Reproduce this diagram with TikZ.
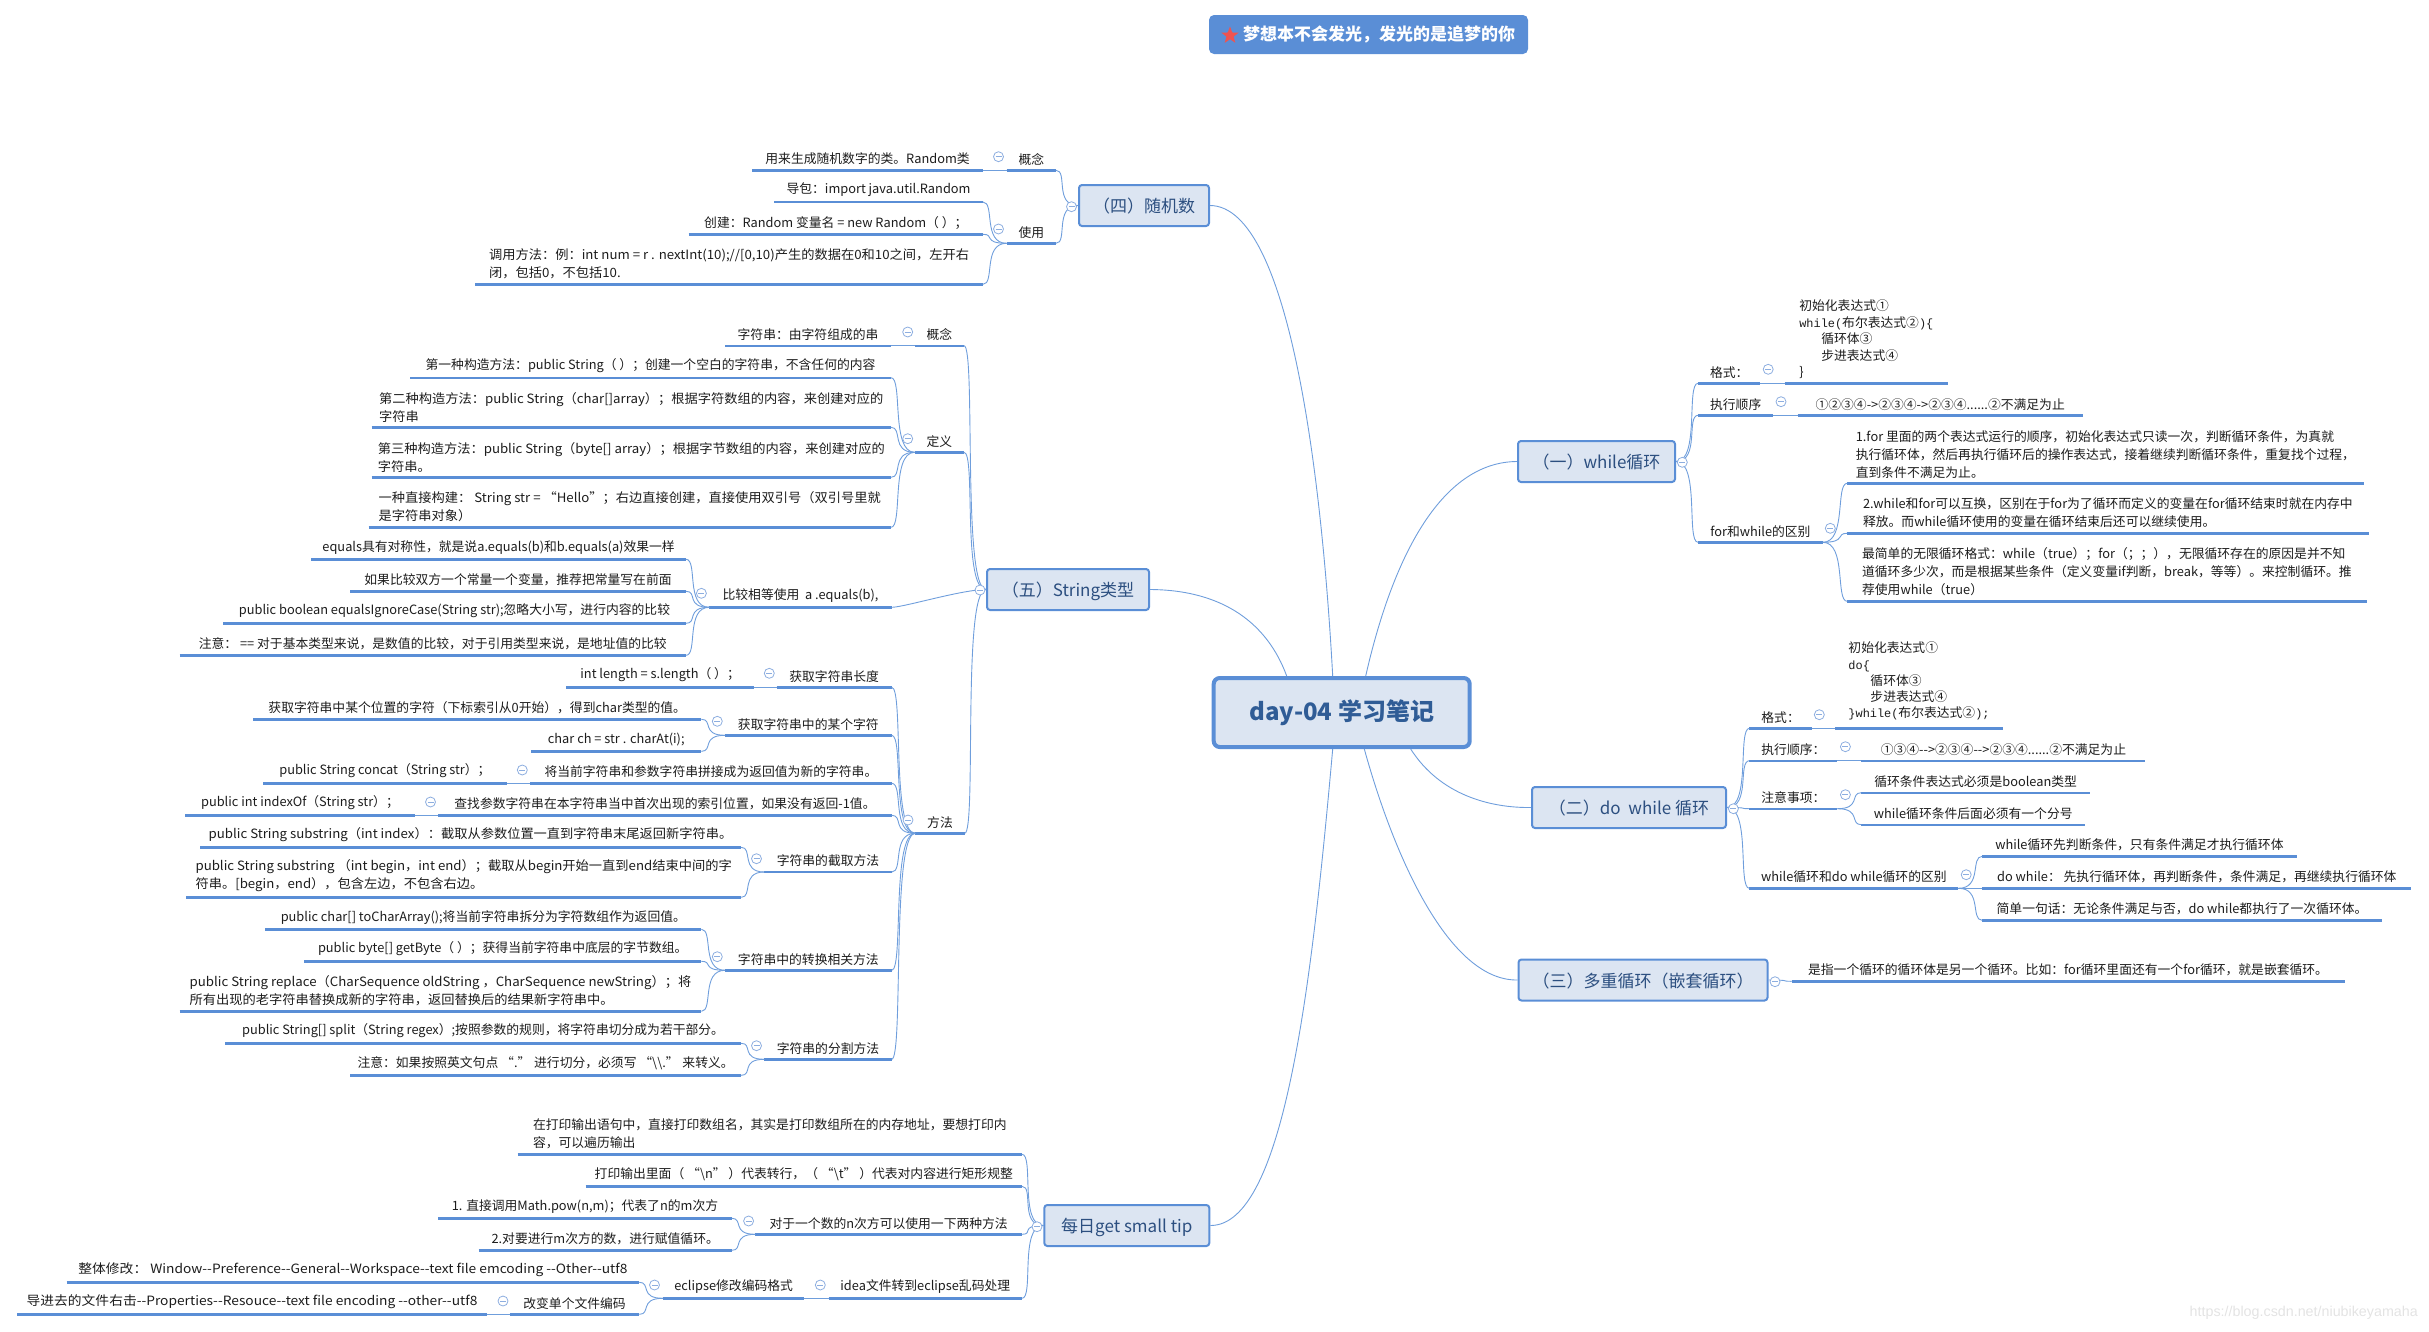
\documentclass[tikz,border=0pt]{standalone}
\usepackage{fontspec}
\usetikzlibrary{shapes.geometric}
\setmainfont{Noto Sans CJK SC}
\setmonofont[Scale=0.93]{Liberation Mono}
\newfontfamily\markfont{Liberation Sans}
\newfontfamily\widefont[FakeStretch=1.035]{Noto Sans CJK SC}
\newfontfamily\widerfont[FakeStretch=1.075]{Noto Sans CJK SC}
\definecolor{mapblue}{HTML}{5A8ED6}
\definecolor{linkblue}{HTML}{6F9EDC}
\definecolor{foldblue}{HTML}{8DAEE0}
\definecolor{boxfill}{HTML}{DCE5F2}
\definecolor{boxtext}{HTML}{2C4F80}
\definecolor{rootext}{HTML}{2F5C96}
\definecolor{leaftext}{HTML}{1C1C1C}
\definecolor{starred}{HTML}{EF5350}
\tikzset{
	leaf/.style={font=\fontsize{12.8}{18}\selectfont,text=leaftext,align=left,inner xsep=0pt,inner ysep=5pt,
		append after command={(\tikzlastnode.south west) edge[underl] (\tikzlastnode.south east)}},
	underl/.style={draw=mapblue,line width=2.4pt},
	leafl/.style={leaf,anchor=south east,minimum width=#1},
	leafr/.style={leaf,anchor=south west,minimum width=#1},
	wide/.style={font=\widefont\fontsize{12.8}{18}\selectfont},
	wider/.style={font=\widerfont\fontsize{12.8}{18}\selectfont},
	topic/.style={draw=mapblue,fill=boxfill,line width=2pt,rounded corners=3pt,text=boxtext,font=\fontsize{17}{20}\selectfont,inner sep=0pt,minimum height=41pt,text height=15pt,text depth=1pt},
	fold/.style={circle,draw=foldblue,fill=white,line width=.8pt,minimum size=10pt,inner sep=0pt,
		path picture={\draw[foldblue,line width=.8pt] ([xshift=-3pt]path picture bounding box.center)--([xshift=3pt]path picture bounding box.center);}},
	linkl/.style={draw=linkblue,line width=.9pt,to path={.. controls +(-24,0) and +(12,0) .. (\tikztotarget)}},
	linkr/.style={draw=linkblue,line width=.9pt,to path={.. controls +(24,0) and +(-12,0) .. (\tikztotarget)}},
	rootlink/.style={draw=linkblue,line width=.9pt}
}
\begin{document}
\begin{tikzpicture}[x=1pt,y=-1pt]
	\useasboundingbox (0,0) rectangle (2429,1331);
	% title and centre
	\node[fill=mapblue,rounded corners=5pt,minimum width=319pt,minimum height=39pt,inner sep=0pt,text=white,font=\fontsize{17}{20}\selectfont\bfseries] (title) at (1368.5,34.5) {\hspace*{21pt}梦想本不会发光，发光的是追梦的你};
	\node[star,star points=5,star point ratio=2.4,fill=starred,minimum size=18pt,inner sep=0pt] (icon) at (1230,35.5) {};
	\node[draw=mapblue,fill=boxfill,line width=4pt,rounded corners=6pt,minimum width=256pt,minimum height=69pt,inner sep=0pt,text=rootext,font=\fontsize{24}{28}\selectfont\bfseries] (root) at (1341.7,712.5) {day-04 学习笔记};
	
	% topics
	\node[topic,minimum width=130pt] (rnd) at (1144,205.5) {（四）随机数};
	\node[topic,minimum width=162pt] (str) at (1068,589.5) {（五）String类型};
	\node[topic,minimum width=165pt] (tip) at (1126.8,1225.5) {每日get small tip};
	\node[topic,minimum width=157pt] (whl) at (1596.5,461.5) {（一）while循环};
	\node[topic,minimum width=194pt] (dow) at (1629,807.5) {（二）do\ \ while 循环};
	\node[topic,minimum width=249pt] (nest) at (1643,980) {（三）多重循环（嵌套循环）};
	
	\draw[rootlink] (rnd.east) .. controls (1290,206) and (1322,480) .. ([xshift=-9pt]root.north);
	\draw[rootlink] (str.east) .. controls (1225,590) and (1268,625) .. ([xshift=-55pt]root.north);
	\draw[rootlink] (tip.east) .. controls (1285,1226) and (1312,980) .. ([xshift=-9pt]root.south);
	\draw[rootlink] (whl.west) .. controls (1440,462) and (1392,560) .. ([xshift=24pt]root.north);
	\draw[rootlink] (dow.west) .. controls (1490,808) and (1440,795) .. ([xshift=69pt]root.south);
	\draw[rootlink] (nest.west) .. controls (1450,981) and (1395,860) .. ([xshift=22.6pt]root.south);
	
	% (四) random
	\node[leafl=49] (rndA) at (1056,170.3) {概念};
	\node[leafl=230.5] (rndA1) at (983,170.3) {用来生成随机数字的类。Random类};
	\node[leafl=49] (rndB) at (1056,243.3) {使用};
	\node[leafl=208.5] (rndB1) at (983,202) {导包：import java.util.Random};
	\node[leafl=294] (rndB2) at (983,234.3) {创建：Random 变量名 = new Random（ ）；};
	\node[leafl=507.5,wide] (rndB3) at (983,284.3) {调用方法：例：int num = r . nextInt(10);//[0,10)产生的数据在0和10之间，左开右\\闭，包括0，不包括10.};
	
	\draw[linkl] (rnd.west) to (rndA.south east);
	\draw[linkl] (rnd.west) to (rndB.south east);
	\draw[linkl] (rndA.south west) to (rndA1.south east);
	\draw[linkl] (rndB.south west) to (rndB1.south east);
	\draw[linkl] (rndB.south west) to (rndB2.south east);
	\draw[linkl] (rndB.south west) to (rndB3.south east);
	
	% (五) String
	\node[leafl=49] (strA) at (964,345.7) {概念};
	\node[leafl=165.5] (strA1) at (891,345.7) {字符串：由字符组成的串};
	\node[leafl=49] (strB) at (964,452.3) {定义};
	\node[leafl=480.5] (strB1) at (891,377.7) {第一种构造方法：public String（ ）；创建一个空白的字符串，不含任何的内容};
	\node[leafl=519,wide] (strB2) at (891,427.3) {第二种构造方法：public String（char[]array）；根据字符数组的内容，来创建对应的\\字符串};
	\node[leafl=519,wide] (strB3) at (891,477.3) {第三种构造方法：public String（byte[] array）；根据字节数组的内容，来创建对应的\\字符串。};
	\node[leafl=522,wide] (strB4) at (891,527.3) {一种直接构建： String str = “Hello”；右边直接创建，直接使用双引号（双引号里就\\是字符串对象）};
	\node[leafl=182] (strC) at (891.7,607.3) {比较相等使用\ \ a .equals(b),};
	\node[leafl=374.4] (strC1) at (686,559.3) {equals具有对称性，就是说a.equals(b)和b.equals(a)效果一样};
	\node[leafl=335.6] (strC2) at (686,591.3) {如果比较双方一个常量一个变量，推荐把常量写在前面};
	\node[leafl=462.6] (strC3) at (686,623.3) {public boolean equalsIgnoreCase(String str);忽略大小写，进行内容的比较};
	\node[leafl=506] (strC4) at (686,655.3) {注意： == 对于基本类型来说，是数值的比较，对于引用类型来说，是地址值的比较};
	\node[leafl=49] (strD) at (964.7,833.3) {方法};
	\node[leafl=114.7] (strD1) at (891.7,687.3) {获取字符串长度};
	\node[leafl=187.3] (strD1a) at (754,687.3) {int length = s.length（ ）；};
	\node[leafl=166.3] (strD2) at (891.7,735.3) {获取字符串中的某个字符};
	\node[leafl=447.9] (strD2a) at (701.4,719.3) {获取字符串中某个位置的字符（下标索引从0开始），得到char类型的值。};
	\node[leafl=169.9] (strD2b) at (701.4,751.3) {char ch = str . charAt(i);};
	\node[leafl=361.2] (strD3) at (891.7,783.3) {将当前字符串和参数字符串拼接成为返回值为新的字符串。};
	\node[leafl=242.8] (strD3a) at (506.5,783.3) {public String concat（String str）；};
	\node[leafl=453] (strD4) at (891.7,815.3) {查找参数字符串在本字符串当中首次出现的索引位置，如果没有返回-1值。};
	\node[leafl=229.1] (strD4a) at (414.7,815.3) {public int indexOf（String str）；};
	\node[leafl=127] (strD5) at (891.7,872) {字符串的截取方法};
	\node[leafl=540.8,wide] (strD5a) at (741.2,847.3) {public String substring（int index）：截取从参数位置一直到字符串末尾返回新字符串。};
	\node[leafl=554.6,wide] (strD5b) at (741.2,897.3) {public String substring （int begin，int end）；截取从begin开始一直到end结束中间的字\\符串。[begin，end），包含左边，不包含右边。};
	\node[leafl=166.3] (strD6) at (891.7,970.3) {字符串中的转换相关方法};
	\node[leafl=435.7] (strD6a) at (701.4,929.3) {public char[] toCharArray();将当前字符串拆分为字符数组作为返回值。};
	\node[leafl=396.9] (strD6b) at (701.4,961.3) {public byte[] getByte（ ）；获得当前字符串中底层的字节数组。};
	\node[leafl=521.4,wide] (strD6c) at (701.4,1011.3) {public String replace（CharSequence oldString ，CharSequence newString）；将\\所有出现的老字符串替换成新的字符串，返回替换后的结果新字符串中。};
	\node[leafl=127] (strD7) at (891.7,1059.3) {字符串的分割方法};
	\node[leafl=515.8] (strD7a) at (741.2,1043.3) {public String[] split（String regex）;按照参数的规则，将字符串切分成为若干部分。};
	\node[leafl=390.8] (strD7b) at (741.2,1075.3) {注意：如果按照英文句点 “.” 进行切分，必须写 “\textbackslash\textbackslash.” 来转义。};
	
	\draw[linkl] (str.west) to (strA.south east);
	\draw[linkl] (str.west) to (strB.south east);
	\draw[linkl] (str.west) to (strC.south east);
	\draw[linkl] (str.west) to (strD.south east);
	\draw[linkl] (strA.south west) to (strA1.south east);
	\draw[linkl] (strB.south west) to (strB1.south east);
	\draw[linkl] (strB.south west) to (strB2.south east);
	\draw[linkl] (strB.south west) to (strB3.south east);
	\draw[linkl] (strB.south west) to (strB4.south east);
	\draw[linkl] (strC.south west) to (strC1.south east);
	\draw[linkl] (strC.south west) to (strC2.south east);
	\draw[linkl] (strC.south west) to (strC3.south east);
	\draw[linkl] (strC.south west) to (strC4.south east);
	\draw[linkl] (strD.south west) to (strD1.south east);
	\draw[linkl] (strD.south west) to (strD2.south east);
	\draw[linkl] (strD.south west) to (strD3.south east);
	\draw[linkl] (strD.south west) to (strD4.south east);
	\draw[linkl] (strD.south west) to (strD5.south east);
	\draw[linkl] (strD.south west) to (strD6.south east);
	\draw[linkl] (strD.south west) to (strD7.south east);
	\draw[linkl] (strD1.south west) to (strD1a.south east);
	\draw[linkl] (strD2.south west) to (strD2a.south east);
	\draw[linkl] (strD2.south west) to (strD2b.south east);
	\draw[linkl] (strD3.south west) to (strD3a.south east);
	\draw[linkl] (strD4.south west) to (strD4a.south east);
	\draw[linkl] (strD5.south west) to (strD5a.south east);
	\draw[linkl] (strD5.south west) to (strD5b.south east);
	\draw[linkl] (strD6.south west) to (strD6a.south east);
	\draw[linkl] (strD6.south west) to (strD6b.south east);
	\draw[linkl] (strD6.south west) to (strD6c.south east);
	\draw[linkl] (strD7.south west) to (strD7a.south east);
	\draw[linkl] (strD7.south west) to (strD7b.south east);
	
	% daily tip
	\node[leafl=504] (tipA) at (1022,1154.3) {在打印输出语句中，直接打印数组名，其实是打印数组所在的内存地址，要想打印内\\容，可以遍历输出};
	\node[leafl=436] (tipB) at (1022,1186.3) {打印输出里面（ “\textbackslash n” ）代表转行，（ “\textbackslash t” ）代表对内容进行矩形规整};
	\node[leafl=266.3] (tipC) at (1022,1234.3) {对于一个数的n次方可以使用一下两种方法};
	\node[leafl=293.3] (tipC1) at (731.8,1218.3) {1. 直接调用Math.pow(n,m)；代表了n的m次方};
	\node[leafl=252.8] (tipC2) at (731.8,1250.3) {2.对要进行m次方的数，进行赋值循环。};
	\node[leafl=193] (tipD) at (1022,1298.3) {idea文件转到eclipse乱码处理};
	\node[leafl=141.1] (tipD1) at (804.4,1298.3) {eclipse修改编码格式};
	\node[leafl=572.3,wider] (tipD1a) at (639.3,1282.3) {整体修改： Window-{}-Preference-{}-General-{}-Workspace-{}-text file emcoding -{}-Other-{}-utf8};
	\node[leafl=129.1] (tipD1b) at (639.3,1314.3) {改变单个文件编码};
	\node[leafl=469.5,wider] (tipD1c) at (487,1314.3) {导进去的文件右击-{}-Properties-{}-Resouce-{}-text file encoding -{}-other-{}-utf8};
	
	\draw[linkl] (tip.west) to (tipA.south east);
	\draw[linkl] (tip.west) to (tipB.south east);
	\draw[linkl] (tip.west) to (tipC.south east);
	\draw[linkl] (tip.west) to (tipD.south east);
	\draw[linkl] (tipC.south west) to (tipC1.south east);
	\draw[linkl] (tipC.south west) to (tipC2.south east);
	\draw[linkl] (tipD.south west) to (tipD1.south east);
	\draw[linkl] (tipD1.south west) to (tipD1a.south east);
	\draw[linkl] (tipD1.south west) to (tipD1b.south east);
	\draw[linkl] (tipD1b.south west) to (tipD1c.south east);
	
	% (一) while
	\node[leafr=62] (whlA) at (1698,383.3) {格式：};
	\node[leafr=163,font=\fontsize{12.8}{16.6}\selectfont,inner ysep=4pt] (whlA1) at (1784.6,383.3) {初始化表达式①\\\texttt{while(}布尔表达式②\texttt{)\{}\\\hspace*{22pt}循环体③\\\hspace*{22pt}步进表达式④\\\}};
	\node[leafr=75] (whlB) at (1698,415.3) {执行顺序};
	\node[leafr=285] (whlB1) at (1797.5,415.3) {①②③④->②③④->②③④......②不满足为止};
	\node[leafr=124.4] (whlC) at (1698,542.3) {for和while的区别};
	\node[leafr=516] (whlC1) at (1847.2,483.3) {1.for 里面的两个表达式运行的顺序，初始化表达式只读一次，判断循环条件，为真就\\执行循环体，然后再执行循环后的操作表达式，接着继续判断循环条件，重复找个过程，\\直到条件不满足为止。};
	\node[leafr=521] (whlC2) at (1847.2,533.3) {2.while和for可以互换，区别在于for为了循环而定义的变量在for循环结束时就在内存中\\释放。而while循环使用的变量在循环结束后还可以继续使用。};
	\node[leafr=519] (whlC3) at (1847.2,601.3) {最简单的无限循环格式：while（true）；for（；；），无限循环存在的原因是并不知\\道循环多少次，而是根据某些条件（定义变量if判断，break，等等）。来控制循环。推\\荐使用while（true）};
	
	\draw[linkr] (whl.east) to (whlA.south west);
	\draw[linkr] (whl.east) to (whlB.south west);
	\draw[linkr] (whl.east) to (whlC.south west);
	\draw[linkr] (whlA.south east) to (whlA1.south west);
	\draw[linkr] (whlB.south east) to (whlB1.south west);
	\draw[linkr] (whlC.south east) to (whlC1.south west);
	\draw[linkr] (whlC.south east) to (whlC2.south west);
	\draw[linkr] (whlC.south east) to (whlC3.south west);
	
	% (二) do while
	\node[leafr=62] (dowA) at (1749.4,728.3) {格式：};
	\node[leafr=167,font=\fontsize{12.8}{16.2}\selectfont,inner ysep=8pt] (dowA1) at (1835.3,728.3) {初始化表达式①\\\texttt{do\{}\\\hspace*{22pt}循环体③\\\hspace*{22pt}步进表达式④\\\texttt{\}while(}布尔表达式②\texttt{);}};
	\node[leafr=87.6] (dowB) at (1749.4,760.7) {执行顺序：};
	\node[leafr=283.6] (dowB1) at (1861.4,760.7) {①③④-{}->②③④-{}->②③④......②不满足为止};
	\node[leafr=87.6] (dowC) at (1749.4,808.7) {注意事项：};
	\node[leafr=228] (dowC1) at (1861.4,792.7) {循环条件表达式必须是boolean类型};
	\node[leafr=223.3] (dowC2) at (1861.4,824.7) {while循环条件后面必须有一个分号};
	\node[leafr=208.6] (dowD) at (1749.4,888.3) {while循环和do while循环的区别};
	\node[leafr=314] (dowD1) at (1982.2,856.3) {while循环先判断条件，只有条件满足才执行循环体};
	\node[leafr=428.8] (dowD2) at (1982.2,888.3) {do while： 先执行循环体，再判断条件，条件满足，再继续执行循环体};
	\node[leafr=399.3] (dowD3) at (1982.2,920.3) {简单一句话：无论条件满足与否，do while都执行了一次循环体。};
	
	\draw[linkr] (dow.east) to (dowA.south west);
	\draw[linkr] (dow.east) to (dowB.south west);
	\draw[linkr] (dow.east) to (dowC.south west);
	\draw[linkr] (dow.east) to (dowD.south west);
	\draw[linkr] (dowA.south east) to (dowA1.south west);
	\draw[linkr] (dowB.south east) to (dowB1.south west);
	\draw[linkr] (dowC.south east) to (dowC1.south west);
	\draw[linkr] (dowC.south east) to (dowC2.south west);
	\draw[linkr] (dowD.south east) to (dowD1.south west);
	\draw[linkr] (dowD.south east) to (dowD2.south west);
	\draw[linkr] (dowD.south east) to (dowD3.south west);
	
	% (三) nested
	\node[leafr=552.7] (nestA) at (1791.5,981.3) {是指一个循环的循环体是另一个循环。比如：for循环里面还有一个for循环，就是嵌套循环。};
	\draw[linkr] (nest.east) to (nestA.south west);
	
	% fold marks
	\node[fold] (f1) at (1071.5,206.7) {};
	\node[fold] (f2) at (998.5,156.7) {};
	\node[fold] (f3) at (998.5,229) {};
	\node[fold] (f4) at (980,590) {};
	\node[fold] (f5) at (907.7,332) {};
	\node[fold] (f6) at (907.7,438.7) {};
	\node[fold] (f7) at (701.4,593.3) {};
	\node[fold] (f8) at (908,820) {};
	\node[fold] (f9) at (769.3,673.3) {};
	\node[fold] (f10) at (717.3,721.3) {};
	\node[fold] (f11) at (522.3,770) {};
	\node[fold] (f12) at (430.5,802) {};
	\node[fold] (f13) at (756.5,858.7) {};
	\node[fold] (f14) at (717.3,956.7) {};
	\node[fold] (f15) at (756.5,1045.7) {};
	\node[fold] (f16) at (1037,1226.7) {};
	\node[fold] (f17) at (748.6,1221) {};
	\node[fold] (f18) at (820.3,1285) {};
	\node[fold] (f19) at (654.5,1285) {};
	\node[fold] (f20) at (503,1301) {};
	\node[fold] (f21) at (1682.3,462.3) {};
	\node[fold] (f22) at (1768.2,369.3) {};
	\node[fold] (f23) at (1781,401.7) {};
	\node[fold] (f24) at (1830.3,528.3) {};
	\node[fold] (f25) at (1733.4,808.7) {};
	\node[fold] (f26) at (1819.3,714.7) {};
	\node[fold] (f27) at (1845.4,746.7) {};
	\node[fold] (f28) at (1845.4,794.7) {};
	\node[fold] (f29) at (1966.2,874.7) {};
	\node[fold] (f30) at (1775,981.7) {};
	
	% watermark
	\node[anchor=east,text=gray!22,font=\markfont\fontsize{14.3}{16}\selectfont,inner sep=0pt] (mark) at (2418,1313) {https://blog.csdn.net/niubikeyamaha};
\end{tikzpicture}
\end{document}
